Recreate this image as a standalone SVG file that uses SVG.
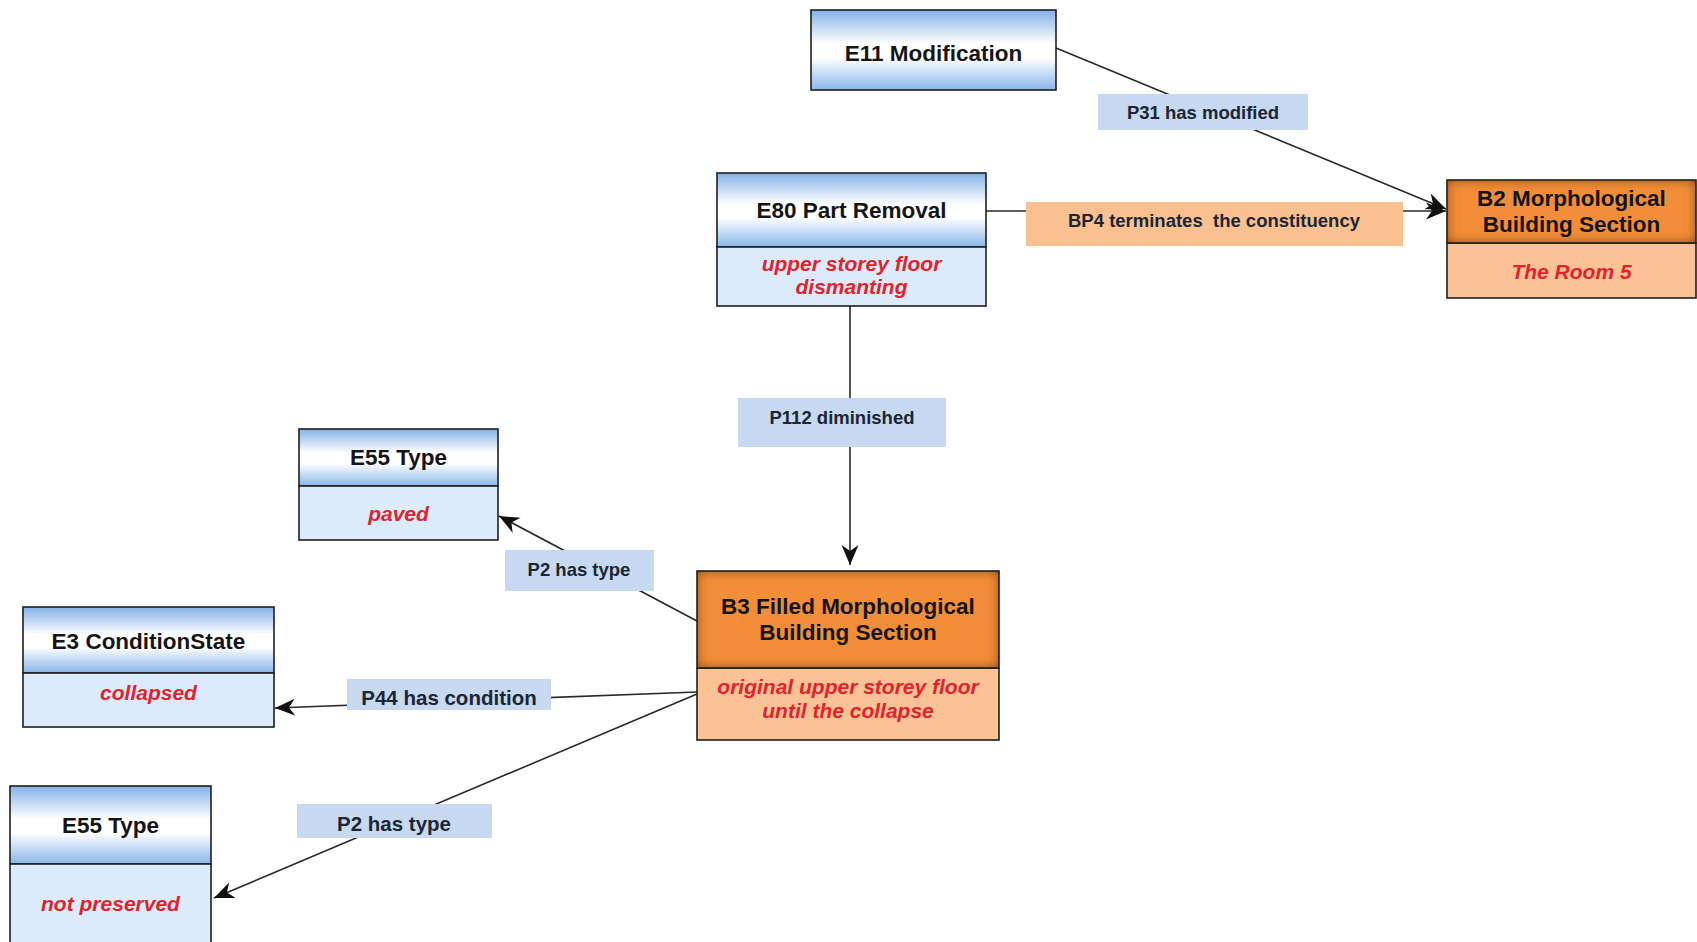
<svg xmlns="http://www.w3.org/2000/svg" width="1697" height="942" viewBox="0 0 1697 942">
<style>
.bd{stroke:#1e1e1e;stroke-width:1.6}
.bh{fill:url(#blueHead)}
.bb{fill:#dcebfb}
.oh{fill:#f28e38}
.ob{fill:#fbc395}
.h{font-family:"Liberation Sans",Arial,sans-serif;font-weight:bold;font-size:22.5px;fill:#151515;text-anchor:middle}
.v{font-family:"Liberation Sans",Arial,sans-serif;font-weight:bold;font-style:italic;font-size:21px;fill:#e3222b;text-anchor:middle}
.lt{font-family:"Liberation Sans",Arial,sans-serif;font-weight:bold;font-size:18.5px;fill:#1c2533;text-anchor:middle}
.lt2{font-family:"Liberation Sans",Arial,sans-serif;font-weight:bold;font-size:20.5px;fill:#1c2533;text-anchor:middle}
.lbl{fill:#c6d9f1}
.lbo{fill:#fac090}
.cn{stroke:#2a2a2a;stroke-width:1.6;fill:none;marker-end:url(#arr)}
</style>
<defs>
<linearGradient id="blueHead" x1="0" y1="0" x2="0" y2="1">
<stop offset="0" stop-color="#84b2e7"/>
<stop offset="0.42" stop-color="#ffffff"/>
<stop offset="0.6" stop-color="#ffffff"/>
<stop offset="1" stop-color="#8ab7ea"/>
</linearGradient>
<filter id="ish" x="-10%" y="-20%" width="120%" height="140%">
<feFlood flood-color="#5a2200" flood-opacity="1" result="f"/>
<feComposite in="f" in2="SourceAlpha" operator="out" result="o"/>
<feGaussianBlur in="o" stdDeviation="6" result="b"/>
<feComposite in="b" in2="SourceAlpha" operator="in" result="s"/>
<feMerge><feMergeNode in="SourceGraphic"/><feMergeNode in="s"/></feMerge>
</filter>
<marker id="arr" markerUnits="userSpaceOnUse" markerWidth="22" markerHeight="18" refX="20" refY="9" orient="auto">
<path d="M0,0.5 L20,9 L0,17.5 L6,9 z" fill="#111"/>
</marker>
</defs>
<rect width="1697" height="942" fill="#ffffff"/>

<g id="connectors">
<line class="cn" x1="1056" y1="48" x2="1446" y2="209"/>
<line class="cn" x1="986" y1="211" x2="1446" y2="211"/>
<line class="cn" x1="850" y1="306" x2="850" y2="565"/>
<line class="cn" x1="697" y1="621" x2="499" y2="516"/>
<line class="cn" x1="697" y1="692" x2="275" y2="708"/>
<line class="cn" x1="697" y1="694" x2="214" y2="898"/>
<g id="label-p31"><rect class="lbl" x="1098" y="94" width="210" height="36"/><text class="lt" x="1203" y="119">P31 has modified</text></g>
<g id="label-bp4"><rect class="lbo" x="1026" y="202" width="377" height="44"/><text class="lt" x="1214" y="227" xml:space="preserve">BP4 terminates  the constituency</text></g>
<g id="label-p112"><rect class="lbl" x="738" y="398" width="208" height="49"/><text class="lt" x="842" y="424">P112 diminished</text></g>
<g id="label-p2a"><rect class="lbl" x="505" y="550" width="149" height="41"/><text class="lt" x="579" y="576">P2 has type</text></g>
<g id="label-p44"><rect class="lbl" x="347" y="679" width="204" height="31"/><text class="lt2" x="449" y="705">P44 has condition</text></g>
<g id="label-p2b"><rect class="lbl" x="297" y="804" width="195" height="34"/><text class="lt2" x="394" y="831">P2 has type</text></g>
</g>

<g id="node-e11">
<rect class="bh bd" x="811" y="10" width="245" height="80"/>
<text class="h" x="933.5" y="61">E11 Modification</text>
</g>

<g id="node-e80">
<rect class="bh bd" x="717" y="173" width="269" height="74"/>
<rect class="bb bd" x="717" y="247" width="269" height="59"/>
<text class="h" x="851.5" y="218">E80 Part Removal</text>
<text class="v" x="851.5" y="271">upper storey floor</text>
<text class="v" x="851.5" y="294">dismanting</text>
</g>

<g id="node-b2">
<rect class="ob bd" x="1447" y="243" width="249" height="55"/>
<rect class="oh" x="1447" y="180" width="249" height="63" filter="url(#ish)"/>
<rect class="bd" fill="none" x="1447" y="180" width="249" height="63"/>
<text class="h" x="1571.5" y="206">B2 Morphological</text>
<text class="h" x="1571.5" y="232">Building Section</text>
<text class="v" x="1571.5" y="279">The Room 5</text>
</g>

<g id="node-b3">
<rect class="ob bd" x="697" y="668" width="302" height="72"/>
<rect class="oh" x="697" y="571" width="302" height="97" filter="url(#ish)"/>
<rect class="bd" fill="none" x="697" y="571" width="302" height="97"/>
<text class="h" x="848" y="614">B3 Filled Morphological</text>
<text class="h" x="848" y="640">Building Section</text>
<text class="v" x="848" y="694">original upper storey floor</text>
<text class="v" x="848" y="718">until the collapse</text>
</g>

<g id="node-e55-paved">
<rect class="bh bd" x="299" y="429" width="199" height="57"/>
<rect class="bb bd" x="299" y="486" width="199" height="54"/>
<text class="h" x="398.5" y="465">E55 Type</text>
<text class="v" x="398.5" y="521">paved</text>
</g>

<g id="node-e3">
<rect class="bh bd" x="23" y="607" width="251" height="66"/>
<rect class="bb bd" x="23" y="673" width="251" height="54"/>
<text class="h" x="148.5" y="649">E3 ConditionState</text>
<text class="v" x="148.5" y="700">collapsed</text>
</g>

<g id="node-e55-np">
<rect class="bh bd" x="10" y="786" width="201" height="78"/>
<rect class="bb bd" x="10" y="864" width="201" height="90"/>
<text class="h" x="110.5" y="833">E55 Type</text>
<text class="v" x="110.5" y="911">not preserved</text>
</g>
</svg>
